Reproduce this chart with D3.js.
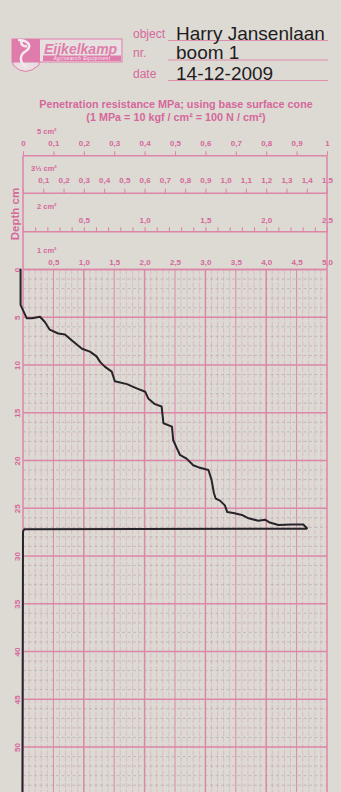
<!DOCTYPE html>
<html>
<head>
<meta charset="utf-8">
<script src="https://cdn.jsdelivr.net/npm/d3@7"></script>
<style>
  html, body { margin: 0; padding: 0; background: #dddad4; }
  svg { display: block; font-family: "Liberation Sans", Arial, sans-serif; }
</style>
</head>
<body>
<svg id="chart" width="341" height="792"></svg>
<script>
// header fields
const fieldLabels = ['object', 'nr.', 'date'];
const fieldValues = ['Harry Jansenlaan', 'boom 1', '14-12-2009'];

// cone scales above the grid (same paper width, different full scale)
const rowLabels = ['5 cm\u00b2', '3\u2153 cm\u00b2', '2 cm\u00b2', '1 cm\u00b2'];
const rowMax = [1, 1.5, 2.5, 5];
const rowTickStep = [0.1, 0.1, 0.1, 0.5];
const rowLabelStep = [0.1, 0.1, 0.5, 0.5];

const depthTicks = [0, 5, 10, 15, 20, 25, 30, 35, 40, 45, 50];

// pen trace going down (MPa on the 1 cm2 scale, depth cm)
const downMPa = [-0.04, -0.04, 0.06, 0.15, 0.28, 0.36, 0.44, 0.58, 0.69, 0.80, 0.97, 1.10, 1.21, 1.27, 1.35, 1.46, 1.51,
  1.71, 1.87, 2.01, 2.06, 2.17, 2.28, 2.31, 2.45, 2.47, 2.53, 2.58, 2.69, 2.80, 2.88, 3.05, 3.10,
  3.14, 3.17, 3.24, 3.32, 3.36, 3.46, 3.60, 3.71, 3.87, 3.98, 4.06, 4.20, 4.42, 4.61, 4.67];
const downDepth = [0, 3.7, 5.1, 5.1, 4.95, 5.5, 6.3, 6.7, 6.8, 7.4, 8.3, 8.6, 9.1, 9.7, 10.2, 10.7, 11.7,
  12.0, 12.45, 12.8, 13.5, 14.1, 14.35, 16.1, 16.45, 17.85, 18.7, 19.4, 19.8, 20.5, 20.7, 21.0, 22.0,
  23.4, 24.0, 24.2, 24.7, 25.4, 25.5, 25.7, 26.05, 26.3, 26.2, 26.5, 26.75, 26.7, 26.7, 27.1];

// pen returning to zero and running down the edge
const returnMPa = [4.67, 0.02, 0.0, -0.01];
const returnDepth = [27.15, 27.2, 27.45, 56];

const textPink = '#d5689b';
const gridPink = '#dc86a8';
const logoPink = '#e07cab';
const ink = '#262428';

const svg = d3.select('#chart');
const padL = 23, padR = 327, gridTop = 269.5, cmPx = 9.55;

const x = d3.scaleLinear().domain([0, 5]).range([padL, padR]);
const y = d3.scaleLinear().domain([0, 56]).range([gridTop, gridTop + 56 * cmPx]);
const comma = v => d3.format('.1f')(v).replace('.', ',');

// ---- logo
const logo = svg.append('g');
logo.append('path')
  .attr('d', 'M13,60 L13,65 Q25,78 39,65 L39,60')
  .attr('fill', '#e9dfe3').attr('stroke', logoPink).attr('stroke-width', 1);
logo.append('rect').attr('x', 12).attr('y', 39).attr('width', 110).attr('height', 23)
  .attr('fill', '#e6e0e0').attr('stroke', logoPink).attr('stroke-width', 1);
logo.append('rect').attr('x', 12).attr('y', 39).attr('width', 28).attr('height', 23).attr('fill', logoPink);
logo.append('path')
  .attr('d', 'M18,40 C28,40 33,46 26,51 C19,55 19,63 27,67 M22,40 C20,44 23,47 27,46')
  .attr('fill', 'none').attr('stroke', '#f3e9ee').attr('stroke-width', 2.5);
logo.append('text').attr('x', 44).attr('y', 53.5)
  .attr('font-size', 14).attr('font-weight', 'bold').attr('font-style', 'italic')
  .attr('fill', logoPink).text('Eijkelkamp');
logo.append('rect').attr('x', 43).attr('y', 55.5).attr('width', 78).attr('height', 5.5).attr('fill', logoPink);
logo.append('text').attr('x', 82).attr('y', 60.2).attr('text-anchor', 'middle')
  .attr('font-size', 4.8).attr('font-style', 'italic').attr('letter-spacing', 0.5)
  .attr('fill', '#f6eef2').text('Agrisearch Equipment');

// ---- header fields
const fieldY = [40, 59.5, 80];
fieldLabels.forEach((lab, i) => {
  svg.append('text').attr('x', 133).attr('y', fieldY[i] - 2.5)
    .attr('font-size', 12).attr('fill', textPink).text(lab);
  svg.append('line').attr('x1', 168).attr('x2', 328).attr('y1', fieldY[i] + 0.5).attr('y2', fieldY[i] + 0.5)
    .attr('stroke', gridPink).attr('stroke-width', 0.9);
  svg.append('text').attr('x', 176).attr('y', fieldY[i] - 0.5)
    .attr('font-size', 19).attr('fill', '#221c1e').text(fieldValues[i]);
});

// ---- title
svg.append('text').attr('x', 176).attr('y', 107.5).attr('text-anchor', 'middle')
  .attr('font-size', 10.8).attr('font-weight', 'bold').attr('fill', textPink)
  .text('Penetration resistance MPa; using base surface cone');
svg.append('text').attr('x', 176).attr('y', 120.5).attr('text-anchor', 'middle')
  .attr('font-size', 10.8).attr('font-weight', 'bold').attr('fill', textPink)
  .text('(1 MPa = 10 kgf / cm\u00b2 = 100 N / cm\u00b2)');

// ---- cone scale rows
const rowLineY = [155.7, 193.3, 231.7, gridTop];
const rowTextY = [133.5, 171, 209, 253];
const rowTickLen = [4.5, 4.5, 4.5, 0];
const rowPad = [5.5, 5.5, 4.5, 4.5];

rowMax.forEach((m, i) => {
  const s = d3.scaleLinear().domain([0, m]).range([padL, padR]);
  const ticks = d3.range(0, m + 1e-9, rowTickStep[i]);
  const isLabel = v => Math.abs(v / rowLabelStep[i] - Math.round(v / rowLabelStep[i])) < 1e-6;
  const fmt = v => {
    if (v === 0) return i === 0 ? '0' : '';
    if (i === 0 && v > 0.999) return '1';
    return isLabel(v) ? comma(v) : '';
  };
  const ax = svg.append('g')
    .attr('transform', 'translate(0,' + rowLineY[i] + ')')
    .call(d3.axisTop(s).tickValues(ticks).tickFormat(fmt).tickSize(rowTickLen[i]).tickPadding(rowPad[i]));
  ax.select('.domain').remove();
  ax.selectAll('line').attr('stroke', gridPink).attr('stroke-width', 1.1);
  ax.selectAll('text').attr('fill', textPink).attr('font-size', 8).attr('font-weight', 'bold')
    .attr('font-family', '"Liberation Sans", Arial, sans-serif');
  svg.append('line').attr('x1', padL).attr('x2', padR).attr('y1', rowLineY[i]).attr('y2', rowLineY[i])
    .attr('stroke', gridPink).attr('stroke-width', 1.5);
  svg.append('text').attr('x', i === 1 ? 31 : 37).attr('y', rowTextY[i])
    .attr('font-size', 7.5).attr('font-weight', 'bold').attr('fill', textPink).text(rowLabels[i]);
});

svg.append('text')
  .attr('transform', 'translate(19,214) rotate(-90)')
  .attr('text-anchor', 'middle').attr('font-size', 11.5).attr('font-weight', 'bold')
  .attr('fill', textPink).text('Depth cm');

// ---- grid
const grid = svg.append('g');
const minorX = d3.range(0, 5.001, 0.1).filter(v => Math.abs(v * 2 - Math.round(v * 2)) > 1e-6);
const halfX = [0.5, 1.5, 2.5, 3.5, 4.5];
const fullX = [0, 1, 2, 3, 4, 5];
const minorY = d3.range(1, 56, 1).filter(v => v % 5 !== 0);
const majorY = d3.range(0, 56, 5);

grid.selectAll('.minor-x').data(minorX).enter().append('line')
  .attr('x1', d => x(d)).attr('x2', d => x(d)).attr('y1', gridTop).attr('y2', 792)
  .attr('stroke', '#dc97b3').attr('stroke-width', 1).attr('stroke-dasharray', '5,1.5').attr('opacity', 0.45);
grid.selectAll('.minor-y').data(minorY).enter().append('line')
  .attr('x1', padL).attr('x2', padR).attr('y1', d => y(d)).attr('y2', d => y(d))
  .attr('stroke', '#b5a2aa').attr('stroke-width', 1).attr('stroke-dasharray', '3,2.5').attr('opacity', 0.6);
grid.selectAll('.half-x').data(halfX).enter().append('line')
  .attr('x1', d => x(d)).attr('x2', d => x(d)).attr('y1', gridTop).attr('y2', 792)
  .attr('stroke', gridPink).attr('stroke-width', 1);
grid.selectAll('.major-y').data(majorY).enter().append('line')
  .attr('x1', padL).attr('x2', padR).attr('y1', d => y(d)).attr('y2', d => y(d))
  .attr('stroke', gridPink).attr('stroke-width', 1.5);
grid.selectAll('.full-x').data(fullX).enter().append('line')
  .attr('x1', d => x(d)).attr('x2', d => x(d)).attr('y1', gridTop).attr('y2', 792)
  .attr('stroke', gridPink).attr('stroke-width', 1.5);

// frame sides above the grid
[padL, padR].forEach(px => {
  svg.append('line').attr('x1', px).attr('x2', px).attr('y1', 155.7).attr('y2', gridTop)
    .attr('stroke', gridPink).attr('stroke-width', 1.5);
});

// depth axis
const yAx = svg.append('g').attr('transform', 'translate(' + padL + ',0)')
  .call(d3.axisLeft(y).tickValues(depthTicks).tickSize(0).tickPadding(0));
yAx.select('.domain').remove();
yAx.selectAll('text')
  .attr('x', 0).attr('dy', 0).attr('text-anchor', 'middle')
  .attr('transform', 'translate(-3,0) rotate(-90)')
  .attr('fill', textPink).attr('font-size', 8).attr('font-weight', 'bold')
  .attr('font-family', '"Liberation Sans", Arial, sans-serif');

// ---- pen trace
const line = d3.line().x(d => x(d[0])).y(d => y(d[1]));
svg.append('path')
  .datum(d3.zip(downMPa, downDepth))
  .attr('d', line)
  .attr('fill', 'none').attr('stroke', ink).attr('stroke-width', 2)
  .attr('stroke-linejoin', 'round').attr('stroke-linecap', 'round');
svg.append('path')
  .datum(d3.zip(returnMPa, returnDepth))
  .attr('d', line)
  .attr('fill', 'none').attr('stroke', ink).attr('stroke-width', 2)
  .attr('stroke-linejoin', 'round');
</script>
</body>
</html>
